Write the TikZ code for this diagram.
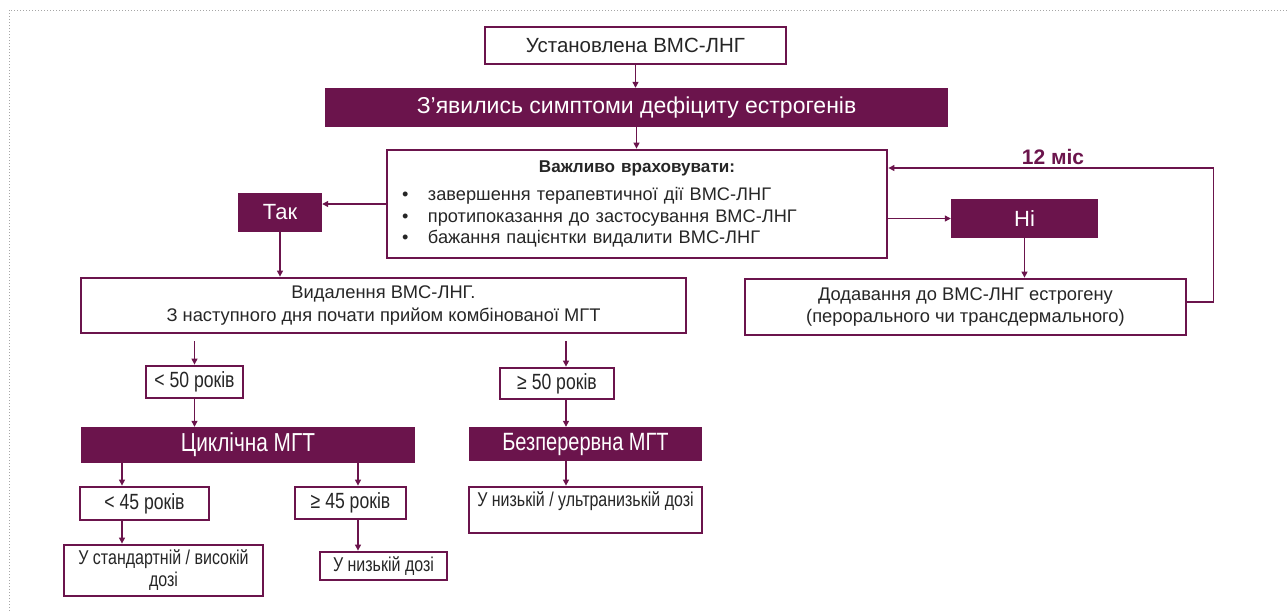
\documentclass[tikz,border=0pt]{standalone}
\usepackage{fontspec}
\setmainfont{Liberation Sans}
\newfontfamily\narrowfont[FakeStretch=0.8]{Liberation Sans}
\usetikzlibrary{arrows.meta}
\definecolor{MgtClr}{rgb}{0.42,0.08,0.30}

\begin{document}
\begin{tikzpicture}[x=1pt,y=-1pt,
  frameBox/.style={draw=MgtClr,line width=2.8pt,fill=white,inner sep=0pt,align=center,text=black!85},
  fillBox/.style={fill=MgtClr,inner sep=0pt,align=center,text=white},
  upText/.style={font=\fontsize{18.3}{22.5}\selectfont},
  lowText/.style={font=\narrowfont\fontsize{22}{24}\selectfont},
  doseText/.style={font=\narrowfont\fontsize{20}{22}\selectfont},
  flowArrow/.style={draw=MgtClr,line width=1.2pt,-{Triangle[length=6pt,width=6pt]}}]
\useasboundingbox (0,0) rectangle (1287,611);
\draw[gray!70,dotted,line width=1pt] (9,611) -- (9,10) -- (1287,10);

% columns of the lower arrows
\coordinate (colA) at (122,0);
\coordinate (colB) at (358,0);
\coordinate (colC) at (566,0);

% upper part
\node[frameBox,minimum width=301pt,minimum height=37pt,font=\fontsize{20.5}{24}\selectfont] (top) at (635.5,45.5) {Установлена ВМС-ЛНГ};
\node[fillBox,minimum width=623pt,minimum height=39pt,font=\fontsize{23}{26}\selectfont] (bar) at (636.5,107.5) {З’явились симптоми дефіциту естрогенів};
\node[frameBox,minimum width=500pt,minimum height=108pt,text width=470pt,align=left,font=\fontsize{18.2}{21.5}\selectfont] (big) at (637,204)
  {\makebox[470pt][c]{\bfseries\fontsize{17.1}{20}\selectfont Важливо враховувати:}\\[7pt]
   \makebox[26pt][l]{\textbullet}завершення терапевтичної дії ВМС-ЛНГ\\
   \makebox[26pt][l]{\textbullet}протипоказання до застосування ВМС-ЛНГ\\
   \makebox[26pt][l]{\textbullet}бажання пацієнтки видалити ВМС-ЛНГ};
\node[fillBox,minimum width=84pt,minimum height=39pt,font=\fontsize{22}{26}\selectfont] (tak) at (280,212.5) {Так};
\node[fillBox,minimum width=147pt,minimum height=39pt,font=\fontsize{22}{26}\selectfont] (ni) at (1024.5,218.5) {Ні};
\node[text=MgtClr,font=\bfseries\fontsize{21}{24}\selectfont] (mis) at (1053,157) {12 міс};
\node[frameBox,upText,minimum width=441pt,minimum height=56pt] (dod) at (965.5,307) {Додавання до ВМС-ЛНГ естрогену\\(перорального чи трансдермального)};
\node[frameBox,upText,minimum width=605pt,minimum height=55pt] (vyd) at (383.5,305.5) {Видалення ВМС-ЛНГ.\\З наступного дня почати прийом комбінованої МГТ};

% lower part
\node[frameBox,lowText,minimum width=97pt,minimum height=32pt] (lt50) at (194.5,382) {< 50 років};
\node[frameBox,lowText,minimum width=114pt,minimum height=31pt] (ge50) at (557,383.5) {≥ 50 років};
\node[fillBox,minimum width=334pt,minimum height=36pt,font=\narrowfont\fontsize{26}{28}\selectfont] (cyc) at (248,445) {Циклічна МГТ};
\node[fillBox,minimum width=233pt,minimum height=34pt,font=\narrowfont\fontsize{25}{28}\selectfont] (bez) at (585.5,444) {Безперервна МГТ};
\node[frameBox,lowText,minimum width=129pt,minimum height=33pt] (lt45) at (144.5,503.5) {< 45 років};
\node[frameBox,lowText,minimum width=111pt,minimum height=32pt] (ge45) at (350.5,503) {≥ 45 років};
\node[frameBox,doseText,minimum width=199pt,minimum height=51pt] (std) at (163.5,570.5) {У стандартній / високій\\дозі};
\node[frameBox,doseText,minimum width=127pt,minimum height=28pt] (low) at (383.5,566) {У низькій дозі};
\node[frameBox,doseText,minimum width=233pt,minimum height=46pt] (ulow) at (585.5,510) {У низькій / ультранизькій дозі\\\mbox{}};

% connectors
\draw[flowArrow] (top.south) -- (top.south |- bar.north);
\draw[flowArrow] (bar.south) -- (bar.south |- big.north);
\draw[flowArrow] (big.west) -- (big.west -| tak.east);
\draw[flowArrow] (big.east |- ni.west) -- (ni.west);
\draw[flowArrow] (tak.south) -- (tak.south |- vyd.north);
\draw[flowArrow] (ni.south) -- (ni.south |- dod.north);
\draw[flowArrow] ([yshift=5pt]dod.east) -- ++(26,0) |- ([yshift=36pt]big.east);
\draw[flowArrow,shorten <=7pt] (vyd.south -| lt50) -- (lt50.north);
\draw[flowArrow,shorten <=7pt] (vyd.south -| colC) -- (ge50.north -| colC);
\draw[flowArrow] (lt50.south) -- (lt50.south |- cyc.north);
\draw[flowArrow] (ge50.south -| colC) -- (bez.north -| colC);
\draw[flowArrow] (cyc.south -| colA) -- (lt45.north -| colA);
\draw[flowArrow] (cyc.south -| colB) -- (ge45.north -| colB);
\draw[flowArrow] (lt45.south -| colA) -- (std.north -| colA);
\draw[flowArrow] (ge45.south -| colB) -- (low.north -| colB);
\draw[flowArrow] (bez.south -| colC) -- (ulow.north -| colC);
\end{tikzpicture}
\end{document}
